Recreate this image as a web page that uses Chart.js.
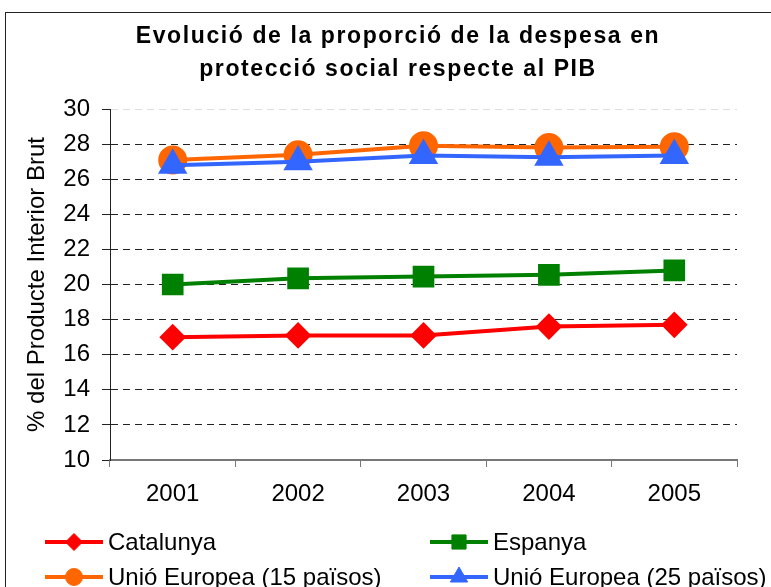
<!DOCTYPE html>
<html>
<head>
<meta charset="utf-8">
<script src="https://cdn.jsdelivr.net/npm/chart.js@4/dist/chart.umd.min.js"></script>
<style>
  html, body { margin: 0; padding: 0; background: #fff; }
  #wrap { width: 771px; height: 587px; overflow: hidden; position: relative; }
  #wrap canvas { position: absolute; left: 0; top: 0; }
</style>
</head>
<body>
<div id="wrap"><canvas id="myChart" width="796" height="600"></canvas></div>
<script>
// data
const years = ['2001', '2002', '2003', '2004', '2005'];
const catalunya = [17.0, 17.1, 17.1, 17.6, 17.7];
const espanya = [20.0, 20.35, 20.45, 20.55, 20.8];
const ue15 = [27.1, 27.4, 27.9, 27.8, 27.85];
const ue25 = [26.8, 27.0, 27.35, 27.25, 27.35];
const seriesNames = ['Catalunya', 'Espanya', 'Unió Europea (15 països)', 'Unió Europea (25 països)'];
const titleLines = ['Evolució de la proporció de la despesa en', 'protecció social respecte al PIB'];
const yTicks = [10, 12, 14, 16, 18, 20, 22, 24, 26, 28, 30];

const FONT = "'Liberation Sans', Arial, sans-serif";

// white background + frame round the figure (runs off right/bottom like the picture)
const framePlugin = {
  id: 'frame',
  beforeDraw(chart) {
    const ctx = chart.ctx;
    ctx.save();
    ctx.fillStyle = '#fff';
    ctx.fillRect(0, 0, chart.width, chart.height);
    ctx.strokeStyle = '#222';
    ctx.lineWidth = 1;
    ctx.strokeRect(5.5, 12.5, 900, 900);
    ctx.restore();
  }
};

// two line title, excel spaces the bold letters a bit wider
const titlePlugin = {
  id: 'wideTitle',
  afterDraw(chart) {
    const ctx = chart.ctx;
    ctx.save();
    ctx.font = 'bold 23px ' + FONT;
    if ('letterSpacing' in ctx) ctx.letterSpacing = '1.6px';
    ctx.fillStyle = '#000';
    ctx.textAlign = 'center';
    ctx.textBaseline = 'alphabetic';
    ctx.fillText(titleLines[0], 398, 43);
    ctx.fillText(titleLines[1], 398, 76);
    ctx.restore();
  }
};

// legend in two fixed columns, line + marker like the original
const legendPlugin = {
  id: 'colLegend',
  afterDraw(chart) {
    const ctx = chart.ctx;
    const cols = [45, 430];
    const rows = [542, 577];
    chart.data.datasets.forEach((ds, i) => {
      const x = cols[i % 2];
      const y = rows[Math.floor(i / 2)];
      ctx.save();
      ctx.strokeStyle = ds.borderColor;
      ctx.lineWidth = 4;
      ctx.beginPath();
      ctx.moveTo(x, y);
      ctx.lineTo(x + 58, y);
      ctx.stroke();
      ctx.fillStyle = ds.borderColor;
      ctx.lineWidth = 1;
      Chart.helpers.drawPoint(ctx, {pointStyle: ds.pointStyle, rotation: 0, radius: ds.legendRadius, borderWidth: 1}, x + 29, y);
      ctx.fillStyle = '#000';
      ctx.font = '24px ' + FONT;
      ctx.textBaseline = 'middle';
      ctx.textAlign = 'left';
      ctx.fillText(ds.label, x + 63, y + 1);
      ctx.restore();
    });
  }
};

function makeSet(label, data, color, style, radius, legendRadius, order) {
  return {
    label: label,
    data: data,
    borderColor: color,
    backgroundColor: color,
    pointBackgroundColor: color,
    pointBorderColor: color,
    pointStyle: style,
    pointRadius: radius,
    pointHoverRadius: radius,
    legendRadius: legendRadius,
    borderWidth: 4,
    tension: 0,
    order: order
  };
}

const ctx = document.getElementById('myChart');

new Chart(ctx, {
  type: 'line',
  data: {
    labels: years,
    datasets: [
      makeSet(seriesNames[0], catalunya, '#ff0000', 'rectRot', 10.5, 8.5, 3),
      makeSet(seriesNames[1], espanya, '#008000', 'rect', 12.5, 10, 2),
      makeSet(seriesNames[2], ue15, '#ff6600', 'circle', 12.5, 8.5, 1),
      makeSet(seriesNames[3], ue25, '#3366ff', 'triangle', 13, 10, 0)
    ]
  },
  options: {
    responsive: false,
    animation: false,
    layout: { padding: { top: 109, left: 5, right: 59, bottom: 90 } },
    plugins: {
      legend: { display: false },
      tooltip: { enabled: false },
      title: { display: false }
    },
    scales: {
      x: {
        offset: true,
        grid: {
          display: true,
          drawOnChartArea: false,
          offset: true,
          tickLength: 7,
          tickColor: '#777'
        },
        border: { display: true, color: '#777', width: 2 },
        ticks: { color: '#000', font: { family: FONT, size: 24 }, padding: 13, maxRotation: 0 },
        afterFit(scale) { scale.height = 50; }
      },
      y: {
        min: 10,
        max: 30,
        afterBuildTicks(scale) { scale.ticks = yTicks.map(v => ({ value: v })); },
        grid: {
          color(c) {
            if (c.tick.value === 10) return 'rgba(0,0,0,0)';
            if (c.tick.value === 30) return '#dddddd';
            return '#222';
          },
          tickLength: 8,
          tickColor: '#222',
          lineWidth: 1
        },
        border: { display: true, color: '#222', width: 1, dash: [7, 5] },
        ticks: { color: '#000', font: { family: FONT, size: 24 }, padding: 12 },
        title: {
          display: true,
          text: '% del Producte Interior Brut',
          color: '#000',
          font: { family: FONT, size: 24 },
          padding: { top: 18, bottom: 0 }
        },
        afterFit(scale) { scale.width = 105; }
      }
    }
  },
  plugins: [framePlugin, titlePlugin, legendPlugin]
});
</script>
</body>
</html>
